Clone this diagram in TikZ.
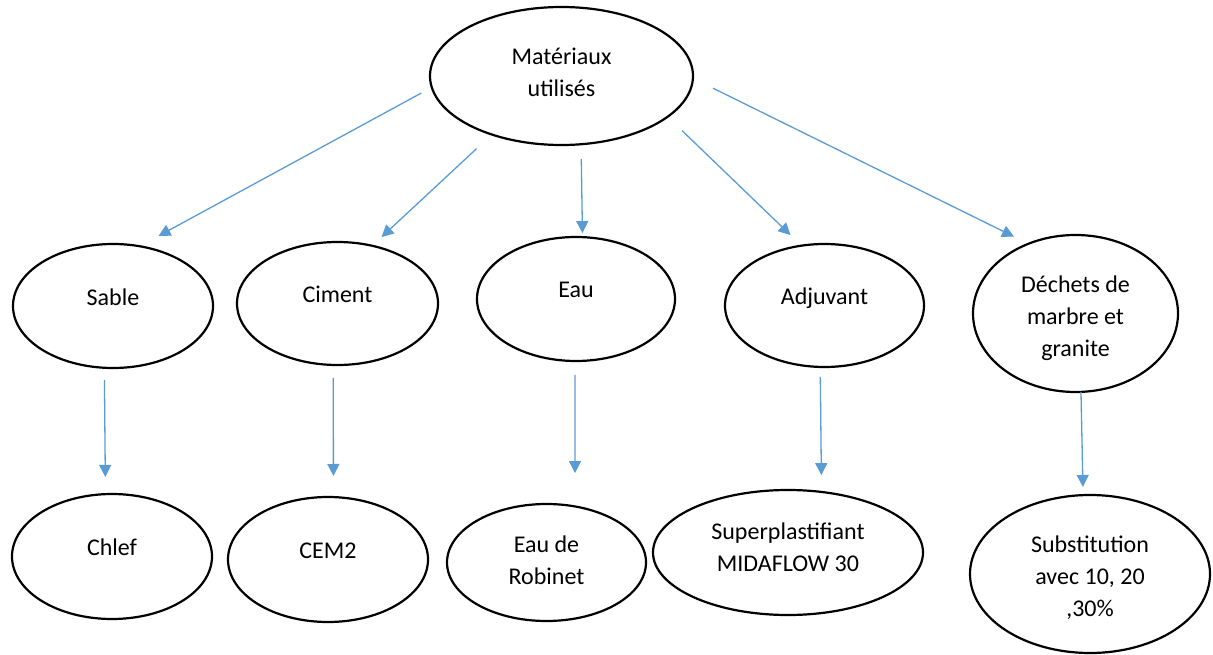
\documentclass[tikz,border=0pt]{standalone}
\usepackage{fontspec}
\setmainfont{Carlito}
\usepackage{tikz}
\usetikzlibrary{shapes}
\usetikzlibrary{arrows.meta}
\definecolor{arrowblue}{HTML}{5B9BD5}

\begin{document}
\begin{tikzpicture}[x=1pt,y=-1pt,drop/.style={execute at end node={\rule[-#1]{0pt}{#1}}}]
\tikzstyle{oval} = [ellipse, draw=black, line width=2.2pt, inner sep=0pt, outer sep=0pt, align=center, font=\fontsize{24}{32}\selectfont, execute at begin node={\rule{0pt}{26pt}}]
\tikzstyle{line} = [draw=arrowblue, line width=1.3pt, -{Triangle[length=12pt,width=12pt]}]
\useasboundingbox (0,0) rectangle (1213,655);
% top
\node [oval, drop=17pt, minimum width=263pt, minimum height=138pt] (materiaux) at (561.5,76) {\rule{0pt}{26pt}Matériaux\\utilisés};
% row 2
\node [oval, drop=26.5pt, minimum width=200pt, minimum height=124pt] (sable) at (113,306) {Sable};
\node [oval, drop=28.5pt, minimum width=201pt, minimum height=123pt] (ciment) at (337.5,303.5) {Ciment};
\node [oval, drop=28.5pt, minimum width=198pt, minimum height=124pt] (eau) at (576,299) {Eau};
\node [oval, drop=28.5pt, minimum width=199pt, minimum height=123pt] (adjuvant) at (824.5,305.5) {Adjuvant};
\node [oval, drop=1pt, minimum width=205pt, minimum height=157pt] (dechets) at (1075.5,313.5) {\rule{0pt}{26pt}Déchets de\\marbre et\\granite};
% row 3
\node [oval, drop=28.5pt, minimum width=200pt, minimum height=125pt] (chlef) at (112,556.5) {Chlef};
\node [oval, drop=28.5pt, minimum width=200pt, minimum height=125pt] (cem) at (328,559.5) {CEM2};
\node [oval, drop=4pt, minimum width=199pt, minimum height=117pt] (robinet) at (546.5,562.5) {Eau de\\Robinet};
\node [oval, drop=11pt, minimum width=270pt, minimum height=125pt] (superplast) at (788,552.5) {Superplastifiant\\MIDAFLOW 30};
\node [oval, drop=6pt, minimum width=240pt, minimum height=158pt] (substitution) at (1090,574) {\rule{0pt}{26pt}Substitution\\avec 10, 20\\,30\%};

\draw [line, shorten <=11.9pt, shorten >=21.5pt] (materiaux.185.9) -- (sable.66.5);
\draw [line, shorten <=20.8pt, shorten >=12.8pt] (materiaux.220.9) -- (ciment.59.6);
\draw [line, shorten <=14.8pt, shorten >=4.1pt] (materiaux.286.7) -- (eau.84.5);
\draw [line, shorten <=20pt, shorten >=15.3pt] (materiaux.339.5) -- (adjuvant.111.5);
\draw [line, shorten <=22.4pt, shorten >=16.1pt] (materiaux.359.6) -- (dechets.124.8);

\draw [line, shorten <=12.2pt, shorten >=17.2pt] (sable.262.6) -- (chlef.96.4);
\draw [line, shorten <=13pt, shorten >=21.1pt] (ciment.266.3) -- (cem.85);
\draw [line, shorten <=14pt, shorten >=33.4pt] (eau.269.1) -- (robinet.63.5);
\draw [line, shorten <=10pt, shorten >=16.9pt] (adjuvant.266.7) -- (superplast.61.4);
\draw [line, shorten >=8.2pt] (dechets.274.7) -- (substitution.95.8);
\end{tikzpicture}
\end{document}
